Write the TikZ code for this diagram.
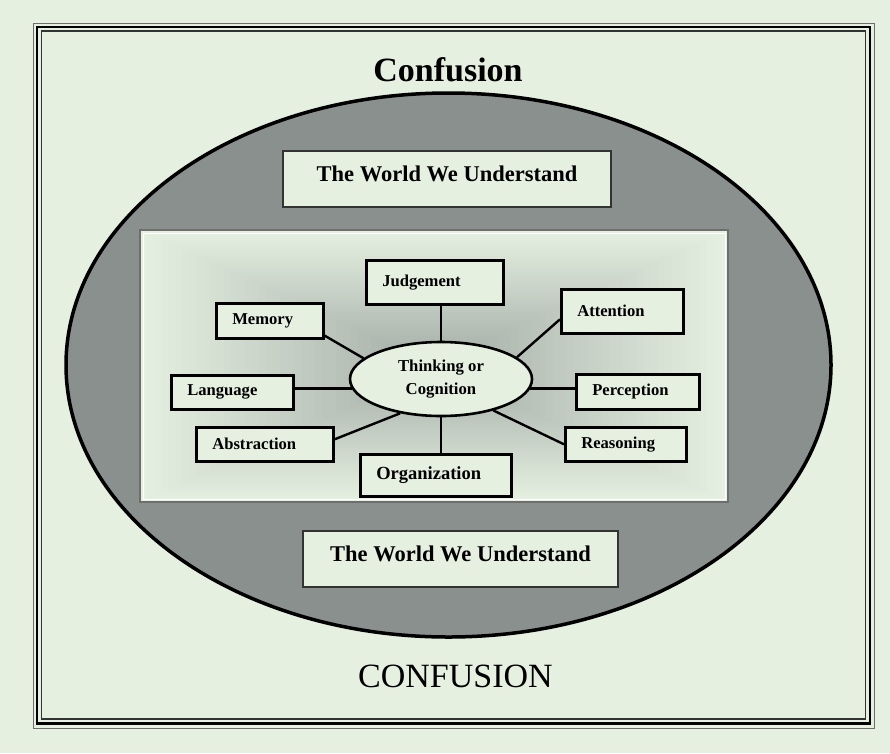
\documentclass[tikz,border=0pt]{standalone}
\usepackage{fontspec}
\setmainfont{Liberation Serif}

\definecolor{paperColor}{RGB}{229,240,225}
\definecolor{ovalColor}{RGB}{138,144,142}
\definecolor{shadeColor}{RGB}{150,158,154}
\definecolor{frameColor}{RGB}{110,110,110}

\tikzset{
  headline/.style={anchor=base, font=\fontsize{34}{40}\selectfont},
  worldbox/.style={draw=black!80, line width=1.3pt, fill=paperColor, anchor=base,
    inner sep=0pt, text height=30pt, text depth=26pt, minimum width=#1,
    font=\bfseries\fontsize{22.5}{26}\selectfont},
  facet/.style 2 args={draw, line width=2.6pt, fill=paperColor, anchor=north west,
    inner xsep=16pt, inner ysep=0pt, text width=#1, minimum height=#2, align=left,
    font=\bfseries\fontsize{16.6}{20}\selectfont},
  hub/.style={ellipse, draw, line width=2.6pt, fill=paperColor, inner sep=0pt,
    minimum width=182pt, minimum height=74pt, align=center,
    font=\bfseries\fontsize{16.7}{23}\selectfont},
  spoke/.style={line width=2.4pt}
}
\usetikzlibrary{shapes.geometric}

\begin{document}
\begin{tikzpicture}[x=1pt,y=-1pt]
  % page and frame
  \fill[paperColor] (0,0) rectangle (890,753);
  \useasboundingbox (0,0) rectangle (890,753);
  \draw[frameColor, line width=1pt] (33,23) rectangle (874,728);
  \draw[line width=2.6pt] (37,27) rectangle (870,723.5);
  \draw[black!80, line width=1.2pt] (41.5,31) rectangle (865.5,719);
  \node[headline, font=\bfseries\fontsize{34}{40}\selectfont] (title) at (448,81) {Confusion};
  \node[headline] (bottomTitle) at (455.5,687) {CONFUSION};

  % the oval
  \draw[line width=3.5pt, fill=ovalColor] (448.5,365) ellipse [x radius=382.5pt, y radius=272pt];
  \node[worldbox=328pt] (worldTop) at (447,181) {The World We Understand};
  \node[worldbox=315pt] (worldBottom) at (460.5,561) {The World We Understand};

  % centre panel
  \foreach \i in {0,...,40}{
    \pgfmathsetmacro{\p}{100-2*\i}
    \fill[paperColor!\p!shadeColor] (140+7*\i,230+3.2*\i) rectangle (728-7*\i,502-3.2*\i);
  }
  \draw[frameColor, line width=1.8pt] (140,230) rectangle (728,502);
  \draw[white, line width=0.8pt] (143,233) rectangle (725,499);

  % thinking and its parts
  \node[hub] (think) at (441,379) {Thinking or\\Cognition};
  \node[facet={105pt}{44pt}] (judgement) at (365,259) {Judgement};
  \node[facet={75pt}{35pt}] (memory) at (215,302) {Memory};
  \node[facet={90pt}{44pt}] (attention) at (560,288) {Attention};
  \node[facet={90pt}{34pt}] (language) at (170,374) {Language};
  \node[facet={91pt}{35pt}] (perception) at (575,373) {Perception};
  \node[facet={105pt}{34pt}] (abstraction) at (195,426) {Abstraction};
  \node[facet={89pt}{34pt}] (reasoning) at (564,426) {Reasoning};
  \node[facet={119pt}{42pt}, font=\bfseries\fontsize{18.5}{22}\selectfont] (organization) at (359,453) {Organization};

  % spokes
  \draw[spoke] (think.north) -- (think.north |- judgement.south);
  \draw[spoke] (think.165) -- ([yshift=4pt]memory.south east);
  \draw[spoke] (think.16) -- ([yshift=-8pt]attention.west);
  \draw[spoke] (think.186) -- (think.186 -| language.east);
  \draw[spoke] (think.-6) -- (think.-6 -| perception.west);
  \draw[spoke] (think.220) -- ([yshift=5pt]abstraction.east);
  \draw[spoke] (think.-31) -- (reasoning.west);
  \draw[spoke] (think.south) -- (think.south |- organization.north);
\end{tikzpicture}
\end{document}
